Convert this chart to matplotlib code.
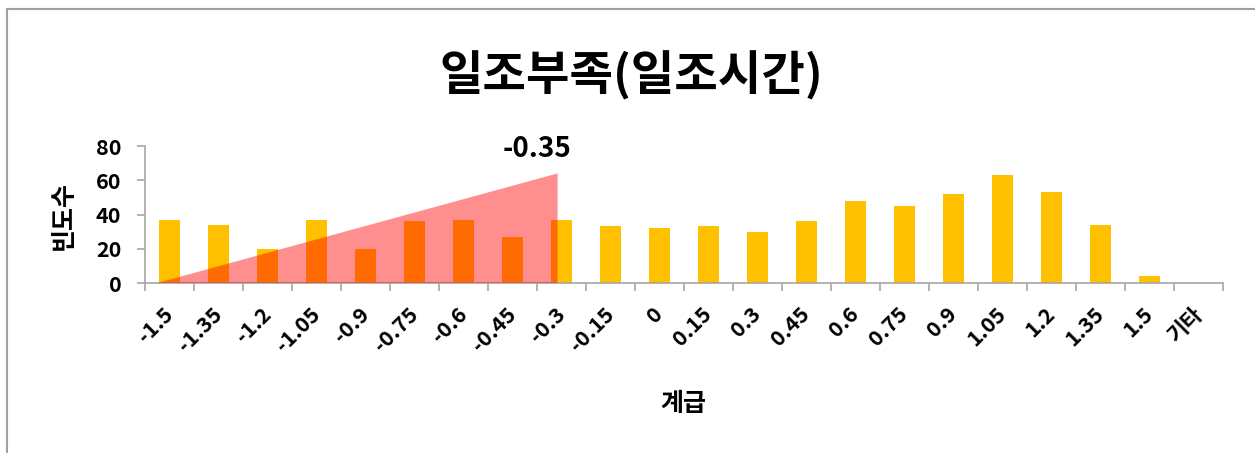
import numpy as np
import matplotlib
matplotlib.use('Agg')
import matplotlib.pyplot as plt
from matplotlib.patches import Polygon
from matplotlib.lines import Line2D

plt.rcParams['font.family'] = ['Noto Sans CJK KR', 'DejaVu Sans']

# class bins and their frequencies
classes = ['-1.5', '-1.35', '-1.2', '-1.05', '-0.9', '-0.75', '-0.6', '-0.45',
           '-0.3', '-0.15', '0', '0.15', '0.3', '0.45', '0.6', '0.75',
           '0.9', '1.05', '1.2', '1.35', '1.5', '기타']
counts = [37, 34, 20, 37, 20, 36, 37, 27, 37, 33, 32, 33, 30, 36, 48, 45,
          52, 63, 53, 34, 4, 0]

# shaded wedge (x in class-position units) and its label
wedge_x = [-0.25, 7.92, 7.92]
wedge_y = [0, 64, 0]
wedge_label = '-0.35'

fig = plt.figure(figsize=(12.55, 4.53), dpi=100)
ax = fig.add_axes([145 / 1255, 170 / 453, 1078 / 1255, 137 / 453])

x = np.arange(len(classes))
ax.bar(x, counts, width=0.41, color='#FFC000', zorder=2)

ax.add_patch(Polygon(np.column_stack([wedge_x, wedge_y]), closed=True,
                     facecolor='#FF0000', alpha=0.44, edgecolor='none', zorder=3))
ax.text(7.5, 78, wedge_label, ha='center', va='center', fontsize=20,
        fontweight='bold', clip_on=False)

ax.set_xlim(-0.5, len(classes) - 0.5)
ax.set_ylim(0, 80)
ax.set_yticks([0, 20, 40, 60, 80])

for side in ['top', 'right']:
    ax.spines[side].set_visible(False)
for side in ['left', 'bottom']:
    ax.spines[side].set_color('#A6A6A6')
    ax.spines[side].set_linewidth(1.2)

# labels at class centres, tick marks on the boundaries
ax.set_xticks(x)
ax.set_xticklabels(classes, rotation=45, ha='right', va='center',
                   rotation_mode='anchor', fontsize=15.5, fontweight='bold')
ax.set_xticks(np.arange(-0.5, len(classes), 1), minor=True)
ax.tick_params(axis='x', which='major', length=0, pad=20)
ax.tick_params(axis='x', which='minor', length=6, color='#A6A6A6', width=1.2)
ax.tick_params(axis='y', length=6, color='#A6A6A6', width=1.2, pad=11,
               labelsize=15.5)
for lbl in ax.get_yticklabels():
    lbl.set_fontweight('bold')

fig.text(631 / 1255, 1 - 76 / 453, '일조부족(일조시간)', ha='center', va='center',
         fontsize=34, fontweight='bold')
fig.text(64 / 1255, 1 - 216 / 453, '빈도수', ha='center', va='center',
         rotation=90, fontsize=18, fontweight='bold')
fig.text(683 / 1255, 1 - 404 / 453, '계급', ha='center', va='center',
         fontsize=18, fontweight='bold')

# chart frame edge
fig.add_artist(Line2D([7 / 1255, 7 / 1255], [0, 1 - 9 / 453],
                      transform=fig.transFigure, color='#A0A0A0', lw=1.5))
fig.add_artist(Line2D([7 / 1255, 1], [1 - 9 / 453, 1 - 9 / 453],
                      transform=fig.transFigure, color='#A0A0A0', lw=1.5))

fig.savefig('out.png', dpi=100)
